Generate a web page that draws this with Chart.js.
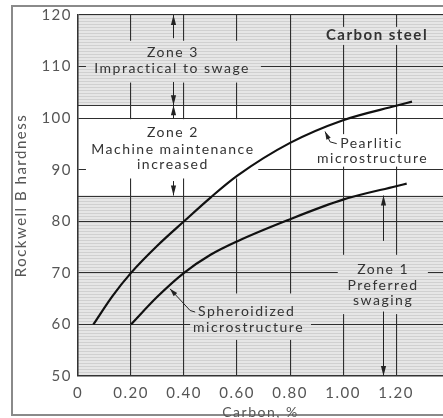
<!DOCTYPE html>
<html>
<head>
<meta charset="utf-8">
<script src="https://cdn.jsdelivr.net/npm/chart.js@4.4.1/dist/chart.umd.min.js"></script>
<style>
  html, body { margin: 0; padding: 0; background: #fff; }
  canvas { display: block; }
</style>
</head>
<body>
<canvas id="chart" width="443" height="418"></canvas>
<script>
// ---------- Data ----------
const carbonTicks = [0, 0.2, 0.4, 0.6, 0.8, 1.0, 1.2];
const carbonLabels = ["0", "0.20", "0.40", "0.60", "0.80", "1.00", "1.20"];
const hardnessTicks = [50, 60, 70, 80, 90, 100, 110, 120];
const pearliticCarbon = [0.058, 0.13, 0.2, 0.3, 0.4, 0.5, 0.6, 0.8, 1.0, 1.2, 1.26];
const pearliticHardness = [60, 65.5, 70, 75.3, 80, 84.6, 88.8, 95.2, 99.6, 102.4, 103.2];
const spheroCarbon = [0.2, 0.3, 0.4, 0.5, 0.6, 0.79, 1.0, 1.2, 1.24];
const spheroHardness = [60, 65.4, 70, 73.5, 76.1, 80.2, 84.2, 86.8, 87.3];
const zoneEdges = [85, 102.5]; // zone 1 below, zone 2 between, zone 3 above

// ---------- Annotations (value coords) ----------
const notes = [
  { t: "Carbon steel", x: 1.128, y: 116, bold: true },
  { t: "Zone 3", x: 0.358, y: 112.7 },
  { t: "Impractical to swage", x: 0.355, y: 109.6 },
  { t: "Zone 2", x: 0.358, y: 97.3 },
  { t: "Machine maintenance", x: 0.358, y: 94.0 },
  { t: "increased", x: 0.358, y: 91.0 },
  { t: "Pearlitic", x: 0.989, y: 95.0, left: true },
  { t: "microstructure", x: 0.902, y: 92.1, left: true },
  { t: "Zone 1", x: 1.151, y: 70.6 },
  { t: "Preferred", x: 1.151, y: 67.5 },
  { t: "swaging", x: 1.151, y: 64.6 },
  { t: "Spheroidized", x: 0.453, y: 62.5, left: true },
  { t: "microstructure", x: 0.434, y: 59.4, left: true },
];
// boxes that break the grid behind the labels: x0, x1, y0, y1, hatched?
const masks = [
  [0.03, 0.69, 106.9, 115, true],
  [0.905, 1.35, 114.2, 117.7, true],
  [0.03, 0.68, 88.3, 99.8, false],
  [0.894, 1.34, 90.6, 96.9, false],
  [0.98, 1.32, 62, 73.5, true],
  [0.423, 0.879, 57, 66, true],
];
const zoneArrows = [
  [0.36, 115.5, 120], [0.36, 107, 102.5], [0.36, 100, 102.5],
  [0.36, 87.8, 85], [1.15, 76.2, 85], [1.15, 62.5, 50],
];
const leaders = [
  [[0.932, 97.4], [0.951, 95.4], [0.976, 95.05]],
  [[0.347, 66.9], [0.423, 62.7], [0.442, 62.4]],
];

// ---------- Helpers ----------
let hatch = null;
function makeHatch(ctx) {
  const c = document.createElement("canvas");
  c.width = 4; c.height = 3;
  const g = c.getContext("2d");
  g.fillStyle = "#e6e6e6"; g.fillRect(0, 0, 4, 3);
  g.fillStyle = "#d0d0d0"; g.fillRect(0, 0, 4, 1);
  return ctx.createPattern(c, "repeat");
}
function arrowHead(ctx, tx, ty, fx, fy, len, half) {
  const a = Math.atan2(ty - fy, tx - fx);
  const c = Math.cos(a), s = Math.sin(a);
  ctx.beginPath();
  ctx.moveTo(tx, ty);
  ctx.lineTo(tx - len * c + half * s, ty - len * s - half * c);
  ctx.lineTo(tx - len * c - half * s, ty - len * s + half * c);
  ctx.closePath();
  ctx.fill();
}

const paperPlugin = {
  id: "paper",
  beforeDraw(chart) {
    const { ctx, chartArea: a, scales: { y } } = chart;
    if (!hatch) hatch = makeHatch(ctx);
    ctx.save();
    ctx.fillStyle = "#fff";
    ctx.fillRect(0, 0, chart.width, chart.height);
    ctx.strokeStyle = "#8a8a8a";
    ctx.lineWidth = 2;
    ctx.strokeRect(12, 6, chart.width, 409);
    ctx.fillStyle = hatch;
    const yTop = y.getPixelForValue(120), yZ3 = y.getPixelForValue(zoneEdges[1]);
    const yZ1 = y.getPixelForValue(zoneEdges[0]), yBot = y.getPixelForValue(50);
    ctx.fillRect(a.left, yTop, a.width, yZ3 - yTop);
    ctx.fillRect(a.left, yZ1, a.width, yBot - yZ1);
    ctx.restore();
    ctx.letterSpacing = "1.5px";
  },
  beforeDatasetsDraw(chart) {
    const { ctx, chartArea: a, scales: { x, y } } = chart;
    ctx.save();
    masks.forEach(([x0, x1, y0, y1, h]) => {
      ctx.fillStyle = h ? hatch : "#fff";
      const px0 = x.getPixelForValue(x0), px1 = x.getPixelForValue(x1);
      const py0 = y.getPixelForValue(y1), py1 = y.getPixelForValue(y0);
      ctx.fillRect(px0, py0, px1 - px0, py1 - py0);
    });
    ctx.strokeStyle = "#333";
    ctx.lineWidth = 1.2;
    zoneEdges.forEach((v) => {
      const py = Math.round(y.getPixelForValue(v)) + 0.5;
      ctx.beginPath();
      ctx.moveTo(a.left, py);
      ctx.lineTo(a.right, py);
      ctx.stroke();
    });
    ctx.restore();
  },
  afterDatasetsDraw(chart) {
    const { ctx, scales: { x, y } } = chart;
    ctx.save();
    ctx.strokeStyle = "#222";
    ctx.fillStyle = "#222";
    ctx.lineWidth = 1;
    zoneArrows.forEach(([xv, from, to]) => {
      const px = Math.round(x.getPixelForValue(xv)) + 0.5;
      const y0 = y.getPixelForValue(from), y1 = y.getPixelForValue(to);
      ctx.beginPath();
      ctx.moveTo(px, y0);
      ctx.lineTo(px, y1);
      ctx.stroke();
      arrowHead(ctx, px, y1, px, y0, 10, 2.6);
    });
    leaders.forEach((pts) => {
      const p = pts.map(([a, b]) => [x.getPixelForValue(a), y.getPixelForValue(b)]);
      ctx.beginPath();
      ctx.moveTo(p[0][0], p[0][1]);
      for (let i = 1; i < p.length; i++) ctx.lineTo(p[i][0], p[i][1]);
      ctx.stroke();
      arrowHead(ctx, p[0][0], p[0][1], p[1][0], p[1][1], 8, 2.4);
    });
    ctx.fillStyle = "#333";
    ctx.textBaseline = "middle";
    ctx.letterSpacing = "1.5px";
    notes.forEach((n) => {
      ctx.font = n.bold ? "bold 15px Lato" : "14px Lato";
      ctx.textAlign = n.left ? "left" : "center";
      ctx.fillText(n.t, x.getPixelForValue(n.x), y.getPixelForValue(n.y));
    });
    ctx.restore();
  },
};

// ---------- Chart ----------
const toPoints = (xs, ys) => xs.map((v, i) => ({ x: v, y: ys[i] }));
const lineStyle = {
  borderColor: "#111",
  borderWidth: 2.2,
  pointRadius: 0,
  fill: false,
  cubicInterpolationMode: "monotone",
};

new Chart(document.getElementById("chart"), {
  type: "line",
  data: {
    datasets: [
      { label: "Pearlitic microstructure", data: toPoints(pearliticCarbon, pearliticHardness), ...lineStyle },
      { label: "Spheroidized microstructure", data: toPoints(spheroCarbon, spheroHardness), ...lineStyle },
    ],
  },
  options: {
    responsive: false,
    animation: false,
    layout: { padding: { top: 12, left: 0, right: 0, bottom: 0 } },
    plugins: { legend: { display: false }, tooltip: { enabled: false } },
    scales: {
      x: {
        type: "linear",
        min: 0,
        max: 1.377,
        afterBuildTicks: (s) => { s.ticks = carbonTicks.map((v) => ({ value: v })); },
        afterFit: (s) => { s.height = 42; },
        grid: { color: "#2e2e2e", lineWidth: 1.1, drawTicks: false },
        border: { color: "#333", width: 1.5 },
        ticks: {
          padding: 8,
          color: "#555",
          font: { family: "Lato", size: 15 },
          callback: (v) => carbonLabels[carbonTicks.findIndex((t) => Math.abs(t - v) < 1e-6)] ?? "",
        },
        title: {
          display: true,
          text: "Carbon, %",
          color: "#555",
          font: { family: "Lato", size: 14, lineHeight: 1 },
          padding: { top: 0, bottom: -1 },
        },
      },
      y: {
        type: "linear",
        min: 50,
        max: 120,
        afterBuildTicks: (s) => { s.ticks = hardnessTicks.map((v) => ({ value: v })); },
        afterFit: (s) => { s.width = 78; },
        grid: { color: "#2e2e2e", lineWidth: 1.1, drawTicks: false },
        border: { color: "#333", width: 1.5 },
        ticks: {
          padding: 6,
          color: "#555",
          font: { family: "Lato", size: 15 },
        },
        title: {
          display: true,
          text: "Rockwell B hardness",
          color: "#555",
          font: { family: "Lato", size: 15, lineHeight: 1 },
          padding: { top: 14, bottom: 0 },
        },
      },
    },
  },
  plugins: [paperPlugin],
});
</script>
</body>
</html>
